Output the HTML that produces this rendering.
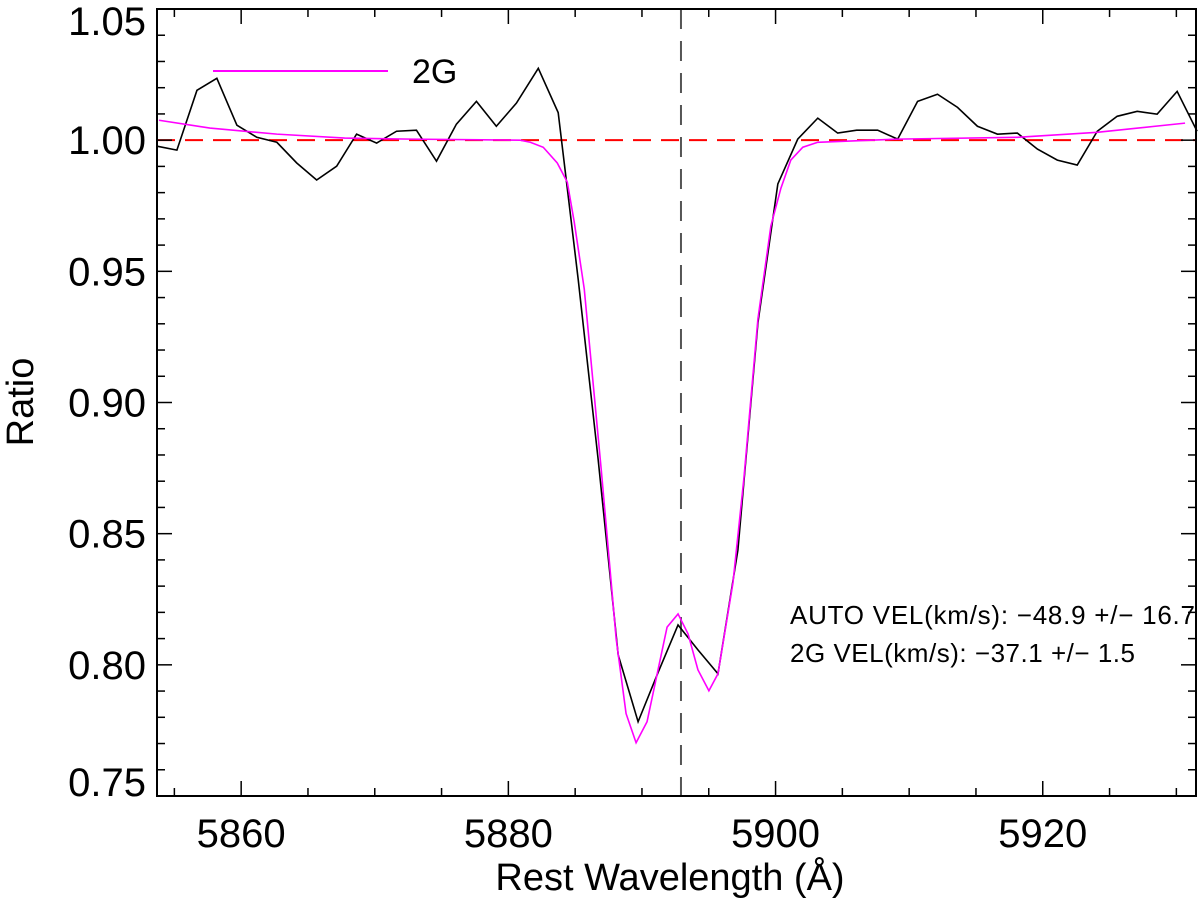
<!DOCTYPE html>
<html><head><meta charset="utf-8"><style>
body{margin:0;background:#fff;}
svg{display:block;font-family:"Liberation Sans",sans-serif;}
</style></head><body>
<svg id="chart" width="1200" height="903" viewBox="0 0 1200 903" xmlns="http://www.w3.org/2000/svg"></svg>
<script>
const obsWave = [5853.7,5855.19,5856.69,5858.18,5859.68,5861.17,5862.67,5864.16,5865.65,5867.15,5868.64,5870.14,5871.63,5873.12,5874.62,5876.11,5877.61,5879.1,5880.6,5882.24,5883.73,5885.23,5886.72,5888.22,5889.71,5891.2,5892.7,5894.19,5895.69,5897.18,5898.68,5900.17,5901.66,5903.16,5904.65,5906.07,5907.64,5909.14,5910.63,5912.12,5913.62,5915.11,5916.61,5918.1,5919.6,5921.09,5922.58,5924.08,5925.57,5927.07,5928.56,5930.06,5931.55];
const obsRatio = [0.9977,0.9962,1.0190,1.0236,1.0057,1.0011,0.9992,0.9913,0.9848,0.9901,1.0023,0.9989,1.0034,1.0038,0.9920,1.0061,1.0148,1.0053,1.0141,1.0274,1.0105,0.9468,0.8783,0.8038,0.7783,0.7970,0.8152,0.8057,0.7966,0.8437,0.9304,0.9833,1.0004,1.0084,1.0027,1.0038,1.0038,1.0004,1.0148,1.0175,1.0125,1.0053,1.0023,1.0027,0.9966,0.9924,0.9905,1.0034,1.0091,1.0110,1.0099,1.0186,1.0034];
const fitWave = [5853.85,5857.66,5862.67,5867.75,5872.75,5880.89,5881.64,5882.61,5883.66,5884.41,5884.93,5885.68,5886.95,5888.07,5888.81,5889.56,5890.38,5891.88,5892.70,5893.45,5894.19,5895.01,5895.69,5896.81,5897.63,5898.68,5899.65,5900.40,5901.14,5902.04,5903.16,5909.14,5918.10,5924.08,5930.65];
const fitRatio = [1.0076,1.0046,1.0023,1.0008,1.0004,1.0000,0.9992,0.9973,0.9913,0.9840,0.9688,0.9433,0.8745,0.8099,0.7814,0.7703,0.7783,0.8144,0.8194,0.8118,0.7981,0.7901,0.7966,0.8312,0.8711,0.9319,0.9673,0.9817,0.9924,0.9973,0.9992,1.0004,1.0011,1.0030,1.0065];
const xTicks = [5860,5880,5900,5920];
const yTicks = [0.75,0.80,0.85,0.90,0.95,1.00,1.05];
const restLine = 5892.92;

const L=157,R=1196,T=9,B=796;
const X0=5853.7,X1=5931.47,Y0=0.75,Y1=1.05;
const sx=v=>L+(v-X0)/(X1-X0)*(R-L);
const sy=v=>B-(v-Y0)/(Y1-Y0)*(B-T);
const svg=document.getElementById('chart');
const NS='http://www.w3.org/2000/svg';
function mk(tag,attrs,parent){const e=document.createElementNS(NS,tag);for(const k in attrs)e.setAttribute(k,attrs[k]);(parent||svg).appendChild(e);return e;}

let e=mk('line',{x1:L,x2:R,y1:sy(1),y2:sy(1),stroke:'#f00','stroke-width':2,'stroke-dasharray':'18,10'});


e=mk('line',{x1:sx(restLine),x2:sx(restLine),y1:T,y2:B,stroke:'#555','stroke-width':2,'stroke-dasharray':'20,12'});



e=mk('polyline',{points:obsWave.map((w,i)=>sx(w)+','+sy(obsRatio[i])).join(' '),fill:'none',stroke:'#000','stroke-width':1.6});


e=mk('polyline',{points:fitWave.map((w,i)=>sx(w)+','+sy(fitRatio[i])).join(' '),fill:'none',stroke:'#f0f','stroke-width':1.6});



e=mk('rect',{x:L,y:T,width:R-L,height:B-T,fill:'none',stroke:'#000','stroke-width':2});



for(let v=5855;v<=5930;v+=5){
  const maj=v%20===0, len=maj?15:8, x=sx(v);
  mk('line',{x1:x,x2:x,y1:B,y2:B-len,stroke:'#000','stroke-width':1.5});
  mk('line',{x1:x,x2:x,y1:T,y2:T+len,stroke:'#000','stroke-width':1.5});
}
xTicks.forEach(v=>{
  const t=mk('text',{x:sx(v),y:847,'font-size':40,'text-anchor':'middle'});t.textContent=v;
  
  
});
for(let k=75;k<=105;k++){
  const v=k/100, maj=k%5===0, len=maj?15:8, y=sy(v);
  mk('line',{x1:L,x2:L+len,y1:y,y2:y,stroke:'#000','stroke-width':1.5});
  mk('line',{x1:R,x2:R-len,y1:y,y2:y,stroke:'#000','stroke-width':1.5});
}
yTicks.forEach(v=>{
  const t=mk('text',{x:146,y:Math.max(Math.min(sy(v)+14,796),35),'font-size':40,'text-anchor':'end'});t.textContent=v.toFixed(2);
  
  
});
</script>
<svg style="position:absolute;left:0;top:0" width="1200" height="903">
<text x="670" y="890" font-size="38" text-anchor="middle" font-family="Liberation Sans, sans-serif">Rest Wavelength (Å)</text>
<text transform="translate(33,402) rotate(-90)" font-size="38" text-anchor="middle" font-family="Liberation Sans, sans-serif">Ratio</text>
<line x1="213" x2="388" y1="71" y2="71" stroke="#f0f" stroke-width="2"/>
<text x="412" y="83" font-size="34" font-family="Liberation Sans, sans-serif">2G</text>
<text x="790" y="624" font-size="26" textLength="405" font-family="Liberation Sans, sans-serif">AUTO VEL(km/s): −48.9 +/− 16.7</text>
<text x="790" y="662" font-size="26" textLength="345" font-family="Liberation Sans, sans-serif">2G VEL(km/s): −37.1 +/− 1.5</text>
</svg>
</body></html>
